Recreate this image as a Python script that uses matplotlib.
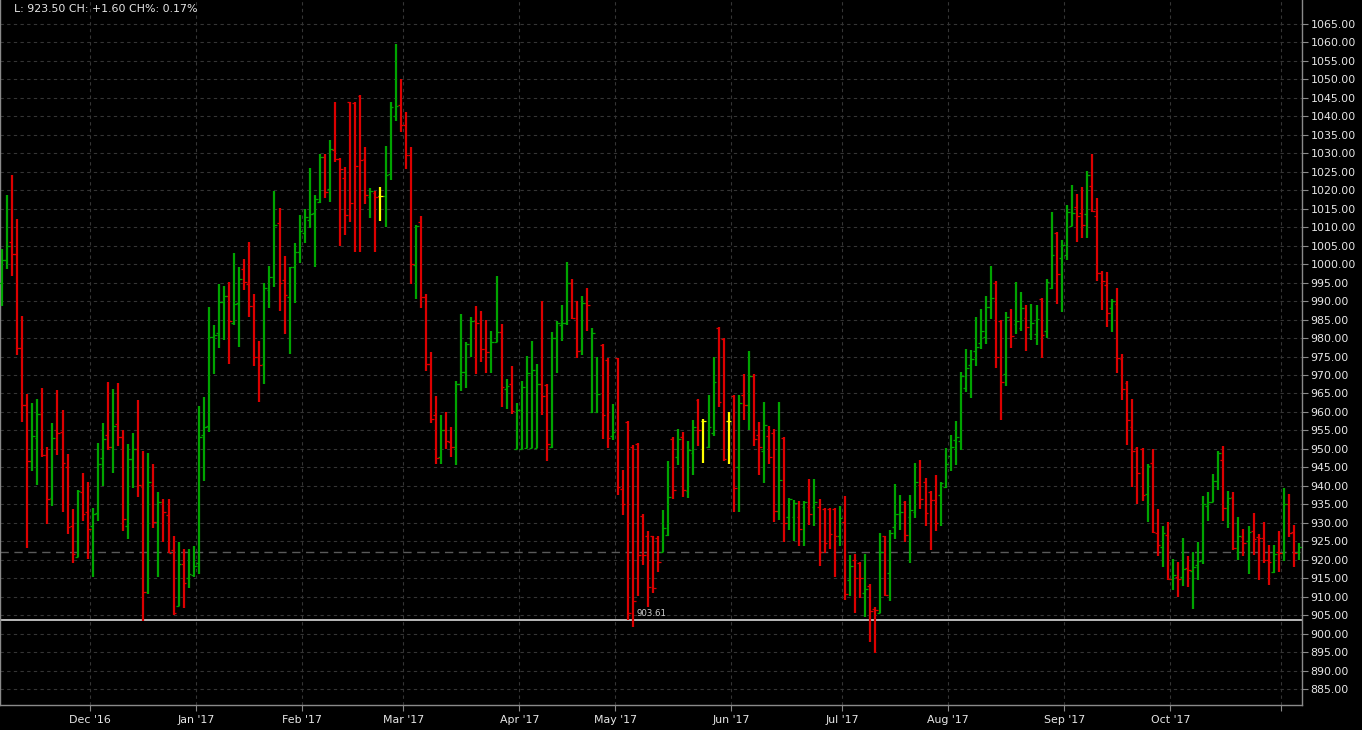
import matplotlib
matplotlib.use("Agg")
import matplotlib.pyplot as plt
import numpy as np

# ---------------- data (daily OHLC) ----------------
opens = [994.9, 1001.0, 1006.1, 1002.8, 977.4, 961.9, 946.8, 953.0, 959.5, 948.4,
         936.7, 955.0, 954.5, 945.1, 929.0, 920.8, 938.2, 932.9, 929.2, 932.6,
         947.6, 953.8, 950.5, 956.6, 953.2, 929.2, 947.2, 950.0, 939.6, 911.2,
         940.1, 930.2, 935.6, 932.0, 922.5, 907.6, 918.9, 915.1, 915.8, 919.1,
         953.8, 956.3, 980.2, 981.3, 989.7, 991.4, 984.1, 989.6, 998.6, 994.7,
         988.8, 974.8, 973.0, 992.9, 996.6, 1011.1, 995.6, 991.0, 999.2, 1003.3,
         1008.5, 1012.0, 1013.8, 1016.8, 1029.0, 1020.4, 1030.8, 1028.5, 1023.4, 1043.8,
         1043.7, 1045.6, 1028.5, 1018.1, 1019.2, 1018.5, 1018.5, 1024.4, 1040.0, 1043.1,
         1037.7, 1029.6, 999.9, 1011.4, 991.0, 973.0, 959.2, 947.7, 955.1, 951.8,
         950.6, 967.6, 970.7, 980.0, 984.5, 984.9, 977.0, 976.2, 978.9, 981.6,
         966.2, 967.6, 950.0, 950.0, 950.2, 950.2, 950.2, 967.5, 967.3, 950.6,
         980.0, 983.4, 984.2, 995.0, 989.9, 976.8, 989.4, 960.1, 960.1, 978.2,
         974.1, 953.5, 974.5, 939.1, 957.4, 950.6, 951.4, 931.9, 926.3, 926.3,
         926.0, 922.1, 926.7, 952.7, 947.9, 953.3, 938.7, 948.8, 963.3, 957.5,
         950.6, 954.2, 982.7, 979.7, 957.5, 964.2, 945.0, 964.5, 961.9, 969.6,
         953.8, 949.3, 953.5, 954.2, 933.3, 953.0, 931.5, 931.5, 931.5, 934.4,
         934.4, 934.4, 934.4, 933.7, 933.7, 933.8, 926.3, 930.3, 914.5, 920.0,
         919.0, 910.9, 912.9, 906.7, 905.7, 926.3, 916.3, 928.8, 932.3, 935.6,
         931.5, 932.9, 940.3, 941.0, 938.3, 936.2, 937.5, 939.8, 948.2, 952.4,
         952.0, 966.4, 972.7, 976.5, 978.6, 980.4, 988.5, 995.0, 984.7, 970.2,
         985.2, 983.8, 982.7, 985.4, 981.1, 981.1, 990.5, 982.0, 993.5, 1008.3,
         1001.6, 1002.4, 1010.4, 1015.6, 1013.8, 1013.5, 1021.2, 1013.0, 997.5, 994.4,
         988.0, 989.2, 974.3, 967.7, 955.8, 950.3, 950.0, 937.9, 946.1, 927.3,
         923.5, 926.7, 914.7, 915.4, 915.2, 917.8, 917.0, 918.5, 919.9, 934.5,
         935.6, 941.3, 947.0, 933.9, 937.0, 923.3, 926.2, 925.1, 927.7, 926.2,
         925.8, 919.9, 916.7, 922.1, 921.7, 935.0, 927.5, 922.2]
highs = [1004.2, 1018.6, 1024.0, 1012.1, 986.1, 964.9, 962.3, 963.6, 966.6, 950.4,
         956.9, 965.8, 960.6, 948.5, 933.8, 939.0, 943.6, 940.9, 934.1, 951.7,
         956.9, 968.2, 966.3, 967.7, 955.0, 951.2, 954.4, 963.1, 949.3, 949.0,
         945.8, 938.2, 936.3, 936.3, 926.5, 924.9, 923.0, 923.0, 923.7, 961.7,
         964.1, 988.5, 983.4, 994.6, 994.1, 995.3, 1002.9, 999.1, 1001.5, 1006.1,
         991.8, 979.1, 995.0, 999.6, 1019.9, 1015.2, 1002.3, 999.3, 1005.8, 1013.4,
         1014.8, 1025.9, 1018.8, 1029.9, 1029.7, 1033.7, 1043.8, 1028.8, 1026.2, 1043.9,
         1043.9, 1045.9, 1031.6, 1020.7, 1019.9, 1021.0, 1032.1, 1043.8, 1059.5, 1050.0,
         1041.3, 1031.6, 1010.5, 1012.9, 992.0, 976.1, 964.2, 959.3, 960.1, 955.8,
         968.5, 986.4, 979.0, 985.8, 988.8, 987.4, 985.0, 982.0, 996.9, 983.9,
         968.8, 972.5, 962.3, 968.3, 975.2, 979.2, 973.1, 990.1, 967.6, 981.5,
         984.7, 989.0, 1000.6, 996.0, 990.1, 991.4, 993.6, 982.8, 975.0, 978.4,
         974.6, 962.2, 974.6, 944.3, 957.5, 951.1, 951.6, 932.3, 927.8, 926.4,
         926.4, 933.5, 946.6, 953.1, 955.4, 954.7, 952.2, 957.9, 963.5, 958.1,
         964.6, 975.0, 983.0, 980.1, 960.0, 964.5, 964.5, 970.3, 976.6, 970.3,
         957.2, 962.7, 956.2, 955.4, 962.7, 953.1, 936.7, 936.2, 935.9, 935.9,
         941.9, 941.9, 936.5, 934.0, 934.0, 934.0, 934.6, 937.3, 921.3, 921.6,
         919.4, 921.6, 913.4, 907.1, 927.2, 926.5, 928.1, 940.5, 937.5, 935.9,
         937.5, 946.2, 947.0, 942.1, 938.6, 943.0, 941.1, 950.3, 953.8, 957.6,
         970.8, 977.1, 976.8, 985.7, 987.9, 991.4, 999.5, 995.5, 984.9, 987.1,
         987.9, 995.2, 992.5, 989.0, 989.3, 989.0, 990.9, 996.0, 1014.1, 1008.7,
         1006.5, 1016.0, 1021.4, 1019.0, 1020.9, 1025.2, 1029.8, 1017.9, 998.1, 997.9,
         990.6, 993.5, 975.7, 968.4, 963.5, 950.5, 950.2, 945.9, 950.0, 933.7,
         929.1, 930.2, 920.2, 919.4, 925.9, 921.0, 922.1, 924.8, 937.3, 938.3,
         943.2, 949.4, 950.8, 938.6, 938.3, 931.5, 928.3, 929.1, 932.6, 926.9,
         930.2, 923.9, 923.9, 927.7, 939.4, 937.8, 929.4, 924.5]
lows = [988.6, 998.6, 996.9, 975.3, 957.2, 923.1, 943.9, 940.2, 947.7, 929.7,
        934.5, 948.3, 932.9, 926.9, 919.0, 920.7, 930.4, 920.1, 915.3, 930.4,
        939.9, 949.6, 943.4, 950.7, 927.7, 925.5, 939.3, 936.9, 903.5, 910.6,
        928.6, 915.3, 924.8, 921.9, 905.0, 907.4, 906.9, 912.3, 915.3, 916.0,
        941.4, 954.5, 970.4, 977.3, 979.6, 972.9, 983.5, 977.5, 993.0, 985.7,
        972.4, 962.6, 967.6, 988.1, 993.7, 987.3, 981.2, 975.6, 989.4, 1000.3,
        1005.7, 1009.7, 999.2, 1016.5, 1017.9, 1016.9, 1027.6, 1005.0, 1007.8, 1011.4,
        1003.2, 1003.2, 1016.3, 1012.4, 1003.2, 1011.6, 1010.0, 1022.7, 1038.7, 1035.7,
        1025.7, 994.6, 990.5, 988.1, 971.0, 956.9, 945.8, 945.8, 949.9, 947.7,
        945.6, 965.6, 966.4, 974.8, 970.3, 973.6, 970.5, 970.5, 978.9, 961.3,
        960.7, 959.4, 950.0, 949.9, 950.1, 950.1, 950.1, 959.2, 946.6, 950.1,
        970.6, 979.2, 983.4, 985.2, 974.5, 975.5, 981.8, 959.6, 959.6, 952.7,
        950.1, 952.4, 937.4, 932.1, 903.7, 901.9, 910.3, 918.6, 907.3, 910.9,
        916.8, 922.1, 926.4, 936.4, 945.5, 937.1, 936.6, 942.8, 950.9, 946.3,
        950.1, 953.6, 961.2, 946.8, 945.8, 933.0, 933.0, 957.7, 955.0, 950.9,
        942.8, 940.7, 945.8, 930.3, 930.8, 924.9, 928.1, 925.1, 923.7, 923.7,
        929.4, 929.0, 918.4, 921.7, 923.0, 915.4, 923.8, 909.1, 910.2, 905.7,
        909.5, 904.6, 897.6, 894.7, 905.5, 910.3, 908.9, 925.7, 928.1, 924.9,
        919.2, 931.4, 933.8, 929.2, 922.7, 927.9, 929.2, 939.3, 943.9, 945.5,
        949.7, 965.4, 963.9, 972.5, 977.1, 978.5, 985.2, 972.0, 957.7, 967.1,
        977.4, 981.0, 982.0, 976.6, 979.6, 978.2, 974.7, 979.9, 993.4, 989.3,
        987.1, 1001.1, 1010.4, 1006.1, 1007.2, 1007.2, 1014.2, 995.4, 987.6, 983.0,
        981.6, 970.5, 963.2, 951.0, 939.7, 935.1, 935.9, 930.3, 927.3, 921.1,
        918.1, 914.6, 911.9, 910.0, 912.9, 912.5, 906.7, 914.6, 918.9, 930.5,
        935.5, 938.9, 930.5, 928.6, 922.7, 920.0, 921.1, 916.2, 921.3, 914.6,
        919.2, 913.2, 916.5, 916.7, 919.7, 926.2, 918.1, 920.0]
closes = [1001.0, 1005.0, 1002.8, 977.4, 961.9, 946.8, 953.5, 959.5, 948.4, 936.5,
          953.0, 954.3, 946.2, 928.8, 921.6, 938.7, 932.4, 928.3, 932.4, 945.9,
          952.7, 950.5, 956.1, 953.2, 930.9, 947.2, 950.0, 940.1, 911.2, 941.0,
          930.2, 935.6, 932.9, 921.9, 905.5, 918.9, 913.6, 916.0, 918.3, 953.2,
          955.9, 980.2, 980.9, 989.7, 991.4, 984.7, 989.3, 995.9, 995.3, 988.8,
          974.9, 972.7, 993.6, 996.6, 1010.6, 994.9, 991.7, 999.2, 1003.3, 1009.0,
          1012.8, 1013.6, 1017.7, 1029.0, 1019.5, 1031.2, 1028.5, 1025.8, 1013.2, 1016.6,
          1026.5, 1028.2, 1018.6, 1019.7, 1018.1, 1018.5, 1024.2, 1042.5, 1042.7, 1037.7,
          1029.6, 1000.1, 1010.2, 991.0, 973.0, 958.1, 947.6, 955.1, 952.0, 950.6,
          967.6, 970.7, 978.4, 984.5, 984.0, 977.0, 976.2, 979.0, 981.6, 966.7,
          967.1, 960.3, 960.4, 966.7, 970.5, 971.4, 967.5, 964.4, 951.4, 980.0,
          984.2, 984.2, 995.0, 985.4, 976.6, 989.4, 989.0, 981.3, 964.8, 959.2,
          952.9, 954.7, 939.8, 935.0, 905.7, 908.8, 921.3, 921.3, 912.7, 912.3,
          919.5, 928.5, 936.9, 938.9, 952.7, 938.9, 949.7, 956.0, 955.1, 957.5,
          956.0, 968.2, 962.8, 947.2, 957.5, 939.5, 962.4, 961.9, 969.8, 952.7,
          950.6, 956.5, 947.9, 933.3, 941.6, 929.9, 936.4, 935.3, 928.2, 935.6,
          932.3, 935.6, 922.0, 924.5, 927.0, 926.4, 931.2, 910.6, 918.3, 915.0,
          915.0, 912.0, 906.0, 906.4, 922.2, 910.5, 927.2, 932.3, 933.0, 926.6,
          933.5, 941.1, 936.4, 932.6, 936.2, 929.9, 940.7, 945.9, 950.5, 953.3,
          969.6, 971.8, 974.3, 977.5, 982.0, 988.5, 990.8, 975.0, 968.0, 985.6,
          980.6, 984.7, 988.1, 983.1, 984.0, 985.1, 980.7, 995.1, 1002.4, 997.2,
          1005.2, 1014.0, 1013.8, 1013.0, 1010.6, 1024.1, 1014.4, 997.5, 995.5, 986.7,
          990.1, 974.5, 966.2, 957.8, 949.4, 943.4, 937.5, 945.3, 927.5, 923.9,
          927.3, 914.8, 915.8, 914.8, 917.5, 917.2, 918.1, 919.7, 935.0, 935.6,
          941.3, 948.8, 933.9, 936.6, 923.3, 926.5, 924.4, 927.6, 925.5, 925.8,
          919.9, 919.4, 921.5, 921.7, 935.0, 927.3, 921.9, 923.5]

month_labels = ["Dec '16", "Jan '17", "Feb '17", "Mar '17", "Apr '17", "May '17",
                "Jun '17", "Jul '17", "Aug '17", "Sep '17", "Oct '17", ""]
month_first_bar = [18, 39, 60, 80, 103, 122, 145, 167, 188, 211, 232, 254]

support_level = 903.61
prev_close_level = 922.0
header = "L: 923.50 CH: +1.60 CH%: 0.17%"

# ---------------- figure ----------------
W, H = 1362, 730
fig = plt.figure(figsize=(W / 100, H / 100), dpi=100, facecolor="#000000")
ax = fig.add_axes([0, 1 - 705 / H, 1302 / W, 705 / H])
ax.set_facecolor("#000000")

n = len(opens)
x = np.arange(n)
o = np.array(opens); h = np.array(highs); l = np.array(lows); c = np.array(closes)
RED, GREEN, YEL = "#dc0000", "#00a400", "#ffff00"
cols = [GREEN if cc > oo else (RED if cc < oo else YEL) for oo, cc in zip(o, c)]

grid_col = "#353535"
yt = np.arange(885, 1066, 5)
for v in yt:
    ax.axhline(v, color=grid_col, lw=0.8, ls=(0, (3, 3)), zorder=1)
gx = [m - 0.5 for m in month_first_bar]
for v in gx:
    ax.axvline(v, color=grid_col, lw=0.8, ls=(0, (3, 3)), zorder=1)

ax.axhline(prev_close_level, color="#5a5a5a", lw=1.0, ls=(0, (6, 4)), zorder=2)
ax.axhline(support_level, color="#d8d8d8", lw=1.2, zorder=2)
ax.text(125.8, support_level + 0.7, f"{support_level:.2f}", color="#cfcfcf",
        fontsize=6.2, ha="left", va="bottom", zorder=5)

ax.vlines(x, l, h, colors=cols, lw=1.6, zorder=3)
ax.hlines(o, x - 0.55, x, colors=cols, lw=0.9, zorder=3)
ax.hlines(c, x, x + 0.55, colors=cols, lw=0.9, zorder=3)

ax.set_xlim(-0.39, 257.6)
ax.set_ylim(880.67, 1071.5)

ax.yaxis.tick_right()
ax.set_yticks(yt)
ax.set_yticklabels([f"{v:.2f}" for v in yt])
ax.set_xticks(gx)
ax.set_xticklabels(month_labels)
ax.tick_params(axis="both", colors="#8a8a8a", labelcolor="#e6e6e6",
               labelsize=7.9, length=4, width=0.8)
ax.tick_params(axis="y", pad=2)
ax.tick_params(axis="x", pad=3)

for s in ["left", "bottom", "right"]:
    ax.spines[s].set_color("#8a8a8a")
    ax.spines[s].set_linewidth(1.0)
ax.spines["top"].set_visible(False)

fig.text(14 / W, 1 - 9 / H, header, color="#e6e6e6", fontsize=7.9,
         ha="left", va="center")

fig.savefig("out.png", dpi=100, facecolor="#000000")
